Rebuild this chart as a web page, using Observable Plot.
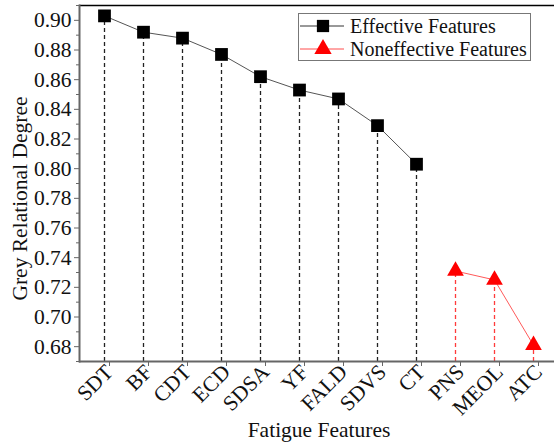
<!DOCTYPE html>
<html>
<head>
<meta charset="utf-8">
<script src="https://cdn.jsdelivr.net/npm/d3@7"></script>
<script src="https://cdn.jsdelivr.net/npm/@observablehq/plot@0.6"></script>
<style>
  html, body { margin: 0; padding: 0; background: #fff; }
  #wrap { position: relative; width: 554px; height: 444px; overflow: hidden; }
  #chart svg, #chart svg text { font-family: "Liberation Serif", "Times New Roman", serif !important; }
  #legend { position: absolute; left: 298px; top: 13px; width: 231px; height: 46px;
    border: 1px solid #777; background: #fff; font-family: "Liberation Serif", serif; font-size: 20px; color: #111; }
  #legend .row { position: absolute; left: 0; height: 24px; width: 231px; }
  #legend svg { position: absolute; left: 1px; top: 0; }
  #legend span { position: absolute; left: 51px; top: 0; line-height: 24px; white-space: nowrap; }
</style>
</head>
<body>
<div id="wrap">
  <div id="chart"></div>
  <div id="legend"></div>
</div>
<script>
const features = ["SDT","BF","CDT","ECD","SDSA","YF","FALD","SDVS","CT","PNS","MEOL","ATC"];
const degree = [0.903,0.892,0.888,0.877,0.862,0.853,0.847,0.829,0.803,0.731,0.725,0.681];
const groups = ["Effective Features","Effective Features","Effective Features","Effective Features","Effective Features","Effective Features","Effective Features","Effective Features","Effective Features","Noneffective Features","Noneffective Features","Noneffective Features"];
const yMajorTicks = [0.68,0.70,0.72,0.74,0.76,0.78,0.80,0.82,0.84,0.86,0.88,0.90];
const yMinorTicks = [0.67,0.69,0.71,0.73,0.75,0.77,0.79,0.81,0.83,0.85,0.87,0.89,0.91];
const yDomain = [0.67, 0.91];
const xLabel = "Fatigue Features";
const yLabel = "Grey Relational Degree";

const data = features.map((f, i) => ({feature: f, degree: degree[i], group: groups[i]}));
const eff = data.filter(d => d.group === "Effective Features");
const non = data.filter(d => d.group === "Noneffective Features");
const FONT = "Liberation Serif";
const FS = 21.5;

const chart = Plot.plot({
  width: 554, height: 444,
  marginLeft: 79, marginRight: -4, marginTop: 5, marginBottom: 83,
  style: {fontFamily: FONT, fontSize: FS + "px", background: "white", color: "#111"},
  x: {type: "point", domain: features, padding: 0.5},
  y: {domain: yDomain},
  marks: [
    Plot.ruleX(eff, {x: "feature", y1: yDomain[0], y2: "degree", stroke: "#222", strokeWidth: 1.3, strokeDasharray: "4,3"}),
    Plot.ruleX(non, {x: "feature", y1: yDomain[0], y2: "degree", stroke: "#ff3b3b", strokeWidth: 1.3, strokeDasharray: "4,3"}),
    Plot.line(eff, {x: "feature", y: "degree", stroke: "#555", strokeWidth: 1}),
    Plot.line(non, {x: "feature", y: "degree", stroke: "#ff5a5a", strokeWidth: 1}),
    Plot.dot(eff, {x: "feature", y: "degree", symbol: "square", r: 7.2, fill: "#000", stroke: "none"}),
    Plot.dot(non, {x: "feature", y: "degree", symbol: "triangle", r: 6.2, fill: "#ff0000", stroke: "none"}),
    Plot.ruleY([yDomain[1]], {stroke: "#000", strokeWidth: 1.5}),
    Plot.ruleY([yDomain[0]], {stroke: "#666", strokeWidth: 2}),
    Plot.frame({anchor: "left", stroke: "#666", strokeWidth: 2}),
    Plot.axisY({ticks: yMinorTicks, tickSize: 3, tickFormat: () => "", label: null, stroke: "#666"}),
    Plot.axisY({ticks: yMajorTicks, tickSize: 5, tickPadding: 3, tickFormat: d3.format(".2f"), label: null, fontSize: FS, fontFamily: FONT, stroke: "#666"}),
    Plot.axisX({tickSize: 5, tickRotate: -45, tickPadding: 2, label: null, fontSize: FS, fontFamily: FONT, stroke: "#666", dx: 5}),
    Plot.text([yLabel], {frameAnchor: "left", rotate: -90, dx: -59, dy: 15, fontSize: FS, fontFamily: FONT, textAnchor: "middle"}),
    Plot.text([xLabel], {frameAnchor: "bottom", dy: 75, fontSize: FS, fontFamily: FONT, textAnchor: "middle"})
  ]
});
document.getElementById("chart").appendChild(chart);

// legend built from the same series names and mark styles
const legendItems = [
  {label: "Effective Features", stroke: "#333", fill: "#000", symbol: d3.symbolSquare, size: 150},
  {label: "Noneffective Features", stroke: "#ff4d4d", fill: "#ff0000", symbol: d3.symbolTriangle, size: 130}
];
const legend = d3.select("#legend");
legendItems.forEach((it, i) => {
  const row = legend.append("div").attr("class", "row").style("top", (i * 23) + "px");
  const svg = row.append("svg").attr("width", 46).attr("height", 24);
  svg.append("line").attr("x1", 0).attr("x2", 44).attr("y1", 12).attr("y2", 12).attr("stroke", it.stroke).attr("stroke-width", 1);
  svg.append("path").attr("d", d3.symbol(it.symbol, it.size)()).attr("transform", "translate(23,12)").attr("fill", it.fill);
  row.append("span").text(it.label);
});
</script>
</body>
</html>
